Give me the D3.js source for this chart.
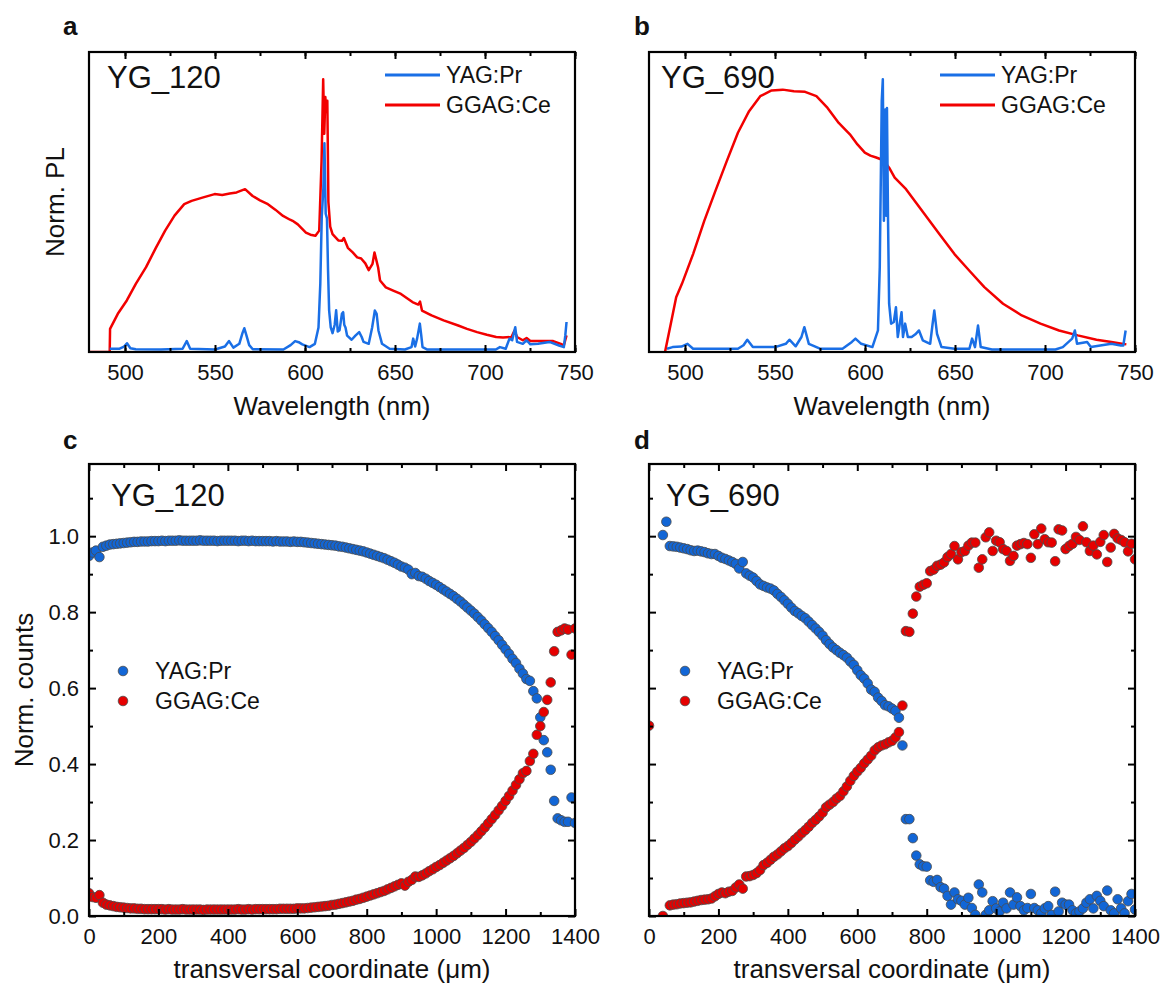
<!DOCTYPE html>
<html lang="en">
<head>
<meta charset="UTF-8">
<title>YAG:Pr / GGAG:Ce spectra and profiles</title>
<script src="https://d3js.org/d3.v7.min.js"></script>
<style>
  body { margin: 0; background: #fff; }
  svg { display: block; font-family: "Liberation Sans", Arial, sans-serif; }
</style>
</head>
<body>
<script>
// ---------- data ----------
const seriesNames = ["YAG:Pr", "GGAG:Ce"];
const sampleNames = ["YG_120", "YG_690"];

// spectra: [wavelength (nm), normalized PL]
const ggag120 = [[480,0],[491.5,0],[491.7,0.085],[496,0.14],[501,0.189],[506,0.25],[511.7,0.311],[517,0.38],
  [522.3,0.445],[527.5,0.5],[532.9,0.542],[537,0.554],[543,0.566],[549.8,0.579],[554,0.576],[558.2,0.581],
  [562,0.585],[566.7,0.597],[570.9,0.572],[575,0.556],[579.4,0.542],[583.5,0.522],[587.8,0.499],[591.7,0.485],
  [593.1,0.481],[596,0.468],[600.5,0.438],[603,0.43],[605.8,0.426],[607.9,0.445],[609.2,0.7],[610.1,1.0],
  [610.7,0.8],[611.3,0.935],[611.9,0.88],[612.4,0.921],[613,0.55],[614,0.46],[615.3,0.432],[618.5,0.409],
  [620.6,0.408],[621.6,0.418],[623.8,0.382],[626.5,0.365],[629,0.347],[631.2,0.343],[633.5,0.325],[635.4,0.3],
  [637.5,0.323],[638.6,0.365],[640.6,0.311],[641.7,0.262],[644.9,0.237],[649,0.225],[653.3,0.213],[656.5,0.198],
  [659.7,0.183],[662.9,0.174],[663.9,0.185],[665,0.152],[670.3,0.134],[677,0.116],[685.1,0.097],[690,0.085],
  [695.6,0.073],[701,0.063],[706.2,0.055],[710,0.053],[714.7,0.055],[716.4,0.079],[717.8,0.055],[721,0.043],
  [723.1,0.051],[725.2,0.04],[731.6,0.04],[737.9,0.04],[742.1,0.03],[743.8,0.024],[745.3,0.061]];

const yag120 = [[491.5,0.012],[497,0.012],[499.5,0.02],[501.1,0.032],[503,0.014],[506,0.01],[520,0.009],
  [532,0.012],[534.3,0.04],[536.2,0.012],[550,0.009],[555.5,0.02],[557.8,0.04],[560.2,0.016],[563.5,0.03],
  [565.3,0.07],[566.3,0.087],[567.5,0.06],[569,0.025],[571,0.01],[588,0.009],[592,0.025],[594.5,0.04],
  [596.5,0.036],[598.5,0.028],[602.5,0.018],[605.5,0.03],[607.5,0.09],[608.5,0.25],[609.3,0.494],[610.2,0.6],
  [610.8,0.765],[611.5,0.507],[612.2,0.49],[612.8,0.3],[613.4,0.153],[614.3,0.09],[615.3,0.069],[616.5,0.1],
  [617.3,0.153],[618.2,0.075],[619.2,0.08],[620.5,0.14],[621.2,0.146],[621.8,0.1],[622.5,0.09],[623.4,0.06],
  [625.9,0.045],[628,0.06],[630.1,0.073],[631.5,0.055],[632.5,0.037],[635.4,0.03],[637.3,0.09],[638.8,0.152],
  [639.8,0.14],[640.8,0.079],[642.8,0.03],[647,0.012],[655.5,0.009],[659.2,0.018],[660.1,0.049],[661.2,0.02],
  [662.3,0.05],[663.8,0.104],[664.6,0.06],[665.3,0.018],[668,0.009],[706,0.009],[708.3,0.018],[711.5,0.012],
  [713.6,0.049],[715.1,0.043],[716.8,0.091],[717.8,0.037],[721,0.03],[723.1,0.043],[725.2,0.028],[729.5,0.03],
  [735.8,0.037],[741.1,0.024],[743.8,0.018],[744.6,0.06],[745.3,0.11]];

const ggag690 = [[488.9,0],[492,0.1],[495.1,0.201],[498.3,0.25],[504.5,0.359],[510.7,0.481],[516.9,0.591],
  [523.2,0.7],[529.4,0.804],[535.6,0.883],[541.8,0.938],[548.1,0.959],[554.3,0.962],[560.5,0.956],[566.7,0.954],
  [573,0.938],[579.2,0.895],[585.4,0.84],[591.6,0.798],[595.8,0.761],[599.9,0.731],[603,0.72],[606.2,0.713],
  [610.3,0.703],[613.4,0.676],[616.5,0.639],[622.8,0.597],[629,0.542],[635.2,0.487],[641.4,0.432],[649.7,0.359],
  [658,0.298],[666.3,0.238],[676.7,0.177],[687.1,0.134],[697.5,0.104],[707.8,0.079],[718.2,0.061],[728.6,0.045],
  [736.9,0.037],[745.2,0.028]];

const yag690 = [[490,0.012],[493.1,0.018],[498,0.02],[501.4,0.03],[504.5,0.012],[529.4,0.012],[532.5,0.025],
  [534.6,0.045],[537.7,0.018],[550.1,0.018],[556,0.03],[558,0.045],[561.5,0.021],[564.7,0.055],[566.3,0.091],
  [568.8,0.03],[575,0.012],[587.5,0.012],[592.7,0.037],[594.7,0.049],[597.9,0.03],[604.1,0.018],[607.2,0.079],
  [608.2,0.311],[609.3,0.92],[609.9,1.0],[610.5,0.481],[611.3,0.889],[611.8,0.5],[612.2,0.895],[612.8,0.481],
  [613.4,0.177],[614.5,0.104],[616,0.11],[617.2,0.164],[618.2,0.055],[620.3,0.146],[621.1,0.055],[622.3,0.104],
  [623.8,0.055],[625.9,0.055],[628,0.065],[630,0.079],[632.1,0.043],[636.2,0.03],[637.5,0.1],[638.5,0.152],
  [640,0.067],[642.5,0.018],[649.7,0.012],[658,0.012],[659.5,0.049],[661.1,0.018],[662.8,0.097],[664.3,0.018],
  [670.5,0.009],[705.8,0.009],[709.9,0.018],[713.1,0.037],[715.1,0.049],[716.6,0.079],[717.8,0.03],[723.4,0.037],
  [725.5,0.018],[730.7,0.024],[736.9,0.03],[742.1,0.024],[743.5,0.024],[744.8,0.079]];

// transversal scans, one value every 10 um from 0 to 1400 um (null = no point)
const scanStepUm = 10;
const yagScan120 = [
  0.948,0.957,0.962,0.945,0.972,0.975,0.978,0.979,0.980,0.981,
  0.982,0.983,0.984,0.985,0.985,0.986,0.986,0.986,0.987,0.987,
  0.987,0.988,0.987,0.988,0.988,0.988,0.989,0.988,0.988,0.988,
  0.988,0.988,0.989,0.988,0.988,0.988,0.988,0.987,0.988,0.988,
  0.988,0.988,0.988,0.987,0.988,0.988,0.987,0.988,0.987,0.987,
  0.987,0.987,0.987,0.986,0.987,0.986,0.986,0.986,0.985,0.986,
  0.985,0.985,0.984,0.983,0.982,0.981,0.980,0.979,0.978,0.977,
  0.976,0.975,0.973,0.972,0.970,0.968,0.966,0.964,0.962,0.960,
  0.957,0.954,0.951,0.948,0.945,0.942,0.938,0.934,0.930,0.925,
  0.920,0.917,0.912,0.900,0.903,0.895,0.893,0.888,0.882,0.877,
  0.872,0.866,0.860,0.854,0.848,0.842,0.835,0.828,0.820,0.812,
  0.804,0.796,0.787,0.778,0.768,0.758,0.748,0.737,0.726,0.714,
  0.702,0.690,0.677,0.666,0.651,0.638,0.624,0.619,0.592,0.573,
  0.523,0.463,0.431,0.385,0.303,0.257,0.252,0.248,0.248,0.312,
  0.245];
const ggagScan120 = [
  0.060,0.050,0.048,0.055,0.035,0.030,0.028,0.026,0.024,0.023,
  0.022,0.021,0.020,0.020,0.019,0.019,0.018,0.018,0.018,0.018,
  0.018,0.018,0.017,0.018,0.017,0.017,0.017,0.018,0.017,0.017,
  0.017,0.017,0.017,0.016,0.017,0.017,0.017,0.017,0.017,0.017,
  0.017,0.017,0.017,0.018,0.017,0.017,0.018,0.017,0.018,0.018,
  0.018,0.018,0.018,0.018,0.018,0.019,0.019,0.019,0.019,0.019,
  0.020,0.020,0.020,0.021,0.022,0.023,0.024,0.025,0.026,0.027,
  0.029,0.030,0.032,0.034,0.036,0.038,0.040,0.043,0.045,0.048,
  0.051,0.054,0.057,0.060,0.063,0.066,0.070,0.074,0.078,0.082,
  0.086,0.080,0.090,0.095,0.104,0.103,0.107,0.112,0.118,0.123,
  0.129,0.134,0.140,0.146,0.152,0.158,0.165,0.172,0.179,0.187,
  0.195,0.204,0.213,0.223,0.233,0.244,0.255,0.266,0.278,0.290,
  0.303,0.316,0.330,0.345,0.360,0.376,0.382,0.408,0.427,0.477,
  0.500,0.537,0.569,0.615,0.697,0.748,0.752,0.757,0.754,0.688,
  0.757];
const yagScan690 = [
  null,null,null,null,1.003,1.038,0.974,0.973,0.972,0.970,
  0.968,0.966,0.963,0.961,0.962,0.960,0.958,0.955,0.953,0.953,
  0.948,0.943,0.940,0.936,0.932,0.927,0.915,0.932,0.902,0.896,
  0.891,0.882,0.873,0.869,0.865,0.862,0.857,0.848,0.840,0.831,
  0.822,0.812,0.803,0.797,0.790,0.784,0.775,0.766,0.757,0.748,
  0.738,0.726,0.716,0.707,0.700,0.693,0.687,0.680,0.670,0.661,
  0.647,0.634,0.625,0.612,0.596,0.590,0.575,0.566,0.555,0.552,
  0.546,0.540,0.522,0.449,0.255,0.255,0.205,0.159,0.136,0.131,
  0.130,0.094,0.090,0.095,0.076,0.072,0.053,0.030,0.062,0.044,
  0.040,0.030,0.048,0.021,0.003,0.083,0.062,0.003,0.015,0.039,
  0.020,0.012,0.035,0.020,0.062,0.030,0.049,0.026,0.015,0.021,
  0.058,0.021,0.015,0.007,0.020,0.026,0.003,0.064,0.012,0.035,
  0.030,0.030,0.015,0.007,0.012,0.020,0.035,0.044,0.020,0.053,
  0.040,0.026,0.067,0.015,0.007,0.044,0.020,0.007,0.039,0.058,
  0.017];
const ggagScan690 = [
  0.501,null,null,null,0.000,null,0.028,0.030,0.031,0.033,
  0.034,0.035,0.036,0.038,0.040,0.042,0.043,0.044,0.046,0.052,
  0.058,0.062,0.060,0.064,0.066,0.075,0.083,0.072,0.104,0.105,
  0.108,0.113,0.121,0.134,0.140,0.148,0.156,0.162,0.170,0.178,
  0.184,0.192,0.201,0.209,0.218,0.226,0.235,0.245,0.253,0.262,
  0.272,0.286,0.293,0.300,0.309,0.316,0.328,0.341,0.356,0.369,
  0.380,0.390,0.402,0.412,0.422,0.436,0.444,0.449,0.452,0.457,
  0.461,0.470,0.484,0.554,0.750,0.748,0.796,0.841,0.867,0.872,
  0.876,0.908,0.912,0.922,0.925,0.931,0.945,0.953,0.974,0.939,
  0.958,0.961,0.975,0.983,0.983,0.917,0.939,0.997,1.010,0.961,
  0.988,0.984,0.966,0.961,0.935,0.948,0.975,0.979,0.982,0.979,
  0.943,1.005,0.979,1.020,0.992,0.984,0.983,0.934,1.018,1.015,
  0.966,0.974,0.980,0.998,0.990,1.026,0.984,0.961,0.975,0.952,
  0.985,1.003,0.932,0.970,1.006,0.994,0.990,0.984,0.960,0.980,
  0.939];

// axis ticks
const wlMajor = [500, 550, 600, 650, 700, 750];
const wlMinor = [500, 525, 550, 575, 600, 625, 650, 675, 700, 725, 750];
const posMajor = [0, 200, 400, 600, 800, 1000, 1200, 1400];
const posMinor = [100, 300, 500, 700, 900, 1100, 1300];
const cntMajor = [0, 0.2, 0.4, 0.6, 0.8, 1.0];
const cntMinor = [0.1, 0.3, 0.5, 0.7, 0.9, 1.1];

// ---------- drawing ----------
const width = 1169, height = 984;
const blueLine = "#1a6fe6", redLine = "#f20000";
const blueDot = "#1266d6", redDot = "#e60000";

const svg = d3.select("body").append("svg")
  .attr("width", width).attr("height", height);

const panels = {
  a: { left: 89, right: 575, top: 52, bottom: 352 },
  b: { left: 649, right: 1135, top: 52, bottom: 352 },
  c: { left: 89, right: 575, top: 464, bottom: 916 },
  d: { left: 649, right: 1135, top: 464, bottom: 916 }
};

function addClip(id, p) {
  svg.append("clipPath").attr("id", id).append("rect")
    .attr("x", p.left).attr("y", p.top)
    .attr("width", p.right - p.left).attr("height", p.bottom - p.top);
}

function styleAxis(sel) {
  sel.select(".domain").remove();
  sel.selectAll(".tick line").attr("stroke", "#000").attr("stroke-width", 2);
  sel.selectAll(".tick text").attr("font-size", 22).attr("fill", "#111")
    .attr("font-family", "'Liberation Sans', Arial, sans-serif");
}

// inward ticks on all four sides, labels only where asked
function drawAxes(p, x, y, o) {
  const g = svg.append("g");
  const fmtX = o.xLabels ? d3.format("d") : () => "";
  g.append("g").attr("transform", `translate(0,${p.bottom})`)
    .call(d3.axisBottom(x).tickValues(o.xMinor).tickSize(-4).tickFormat(""))
    .call(styleAxis);
  g.append("g").attr("transform", `translate(0,${p.bottom})`)
    .call(d3.axisBottom(x).tickValues(o.xMajor).tickSize(-7).tickPadding(12).tickFormat(fmtX))
    .call(styleAxis);
  g.append("g").attr("transform", `translate(0,${p.top})`)
    .call(d3.axisTop(x).tickValues(o.xMinor).tickSize(-4).tickFormat(""))
    .call(styleAxis);
  g.append("g").attr("transform", `translate(0,${p.top})`)
    .call(d3.axisTop(x).tickValues(o.xMajor).tickSize(-7).tickFormat(""))
    .call(styleAxis);
  if (o.yMajor) {
    const fmtY = o.yLabels ? d3.format(".1f") : () => "";
    g.append("g").attr("transform", `translate(${p.left},0)`)
      .call(d3.axisLeft(y).tickValues(o.yMinor).tickSize(-4).tickFormat(""))
      .call(styleAxis);
    g.append("g").attr("transform", `translate(${p.left},0)`)
      .call(d3.axisLeft(y).tickValues(o.yMajor).tickSize(-7).tickPadding(10).tickFormat(fmtY))
      .call(styleAxis);
    g.append("g").attr("transform", `translate(${p.right},0)`)
      .call(d3.axisRight(y).tickValues(o.yMinor).tickSize(-4).tickFormat(""))
      .call(styleAxis);
    g.append("g").attr("transform", `translate(${p.right},0)`)
      .call(d3.axisRight(y).tickValues(o.yMajor).tickSize(-7).tickFormat(""))
      .call(styleAxis);
  }
  g.append("rect")
    .attr("x", p.left).attr("y", p.top)
    .attr("width", p.right - p.left).attr("height", p.bottom - p.top)
    .attr("fill", "none").attr("stroke", "#000").attr("stroke-width", 2.2);
}

function text(x, y, str, size, extra) {
  const t = svg.append("text").attr("x", x).attr("y", y)
    .attr("font-size", size).attr("fill", "#111").text(str);
  if (extra) extra(t);
  return t;
}

function spectrumPanel(key, red, blue, sample, letterX, showYTitle, legendX) {
  const p = panels[key];
  const x = d3.scaleLinear().domain([480, 750]).range([p.left, p.right]);
  const y = d3.scaleLinear().domain([0, 1.1]).range([p.bottom, p.top]);
  addClip("clip-" + key, p);
  const line = d3.line().x(d => x(d[0])).y(d => y(d[1]));
  const g = svg.append("g").attr("clip-path", `url(#clip-${key})`);
  g.append("path").datum(red).attr("d", line)
    .attr("fill", "none").attr("stroke", redLine).attr("stroke-width", 2.5).attr("stroke-linejoin", "round");
  g.append("path").datum(blue).attr("d", line)
    .attr("fill", "none").attr("stroke", blueLine).attr("stroke-width", 2.5).attr("stroke-linejoin", "round");

  drawAxes(p, x, y, { xMajor: wlMajor, xMinor: wlMinor, xLabels: true });

  text((p.left + p.right) / 2, p.bottom + 63, "Wavelength (nm)", 26, t => t.attr("text-anchor", "middle"));
  if (showYTitle) {
    text(0, 0, "Norm. PL", 26, t => t.attr("text-anchor", "middle")
      .attr("transform", `translate(${p.left - 25},${(p.top + p.bottom) / 2}) rotate(-90)`));
  }
  text(p.left + sample.dx, p.top + 36, sample.name, 31);
  text(letterX, p.top - 17, key, 26, t => t.attr("font-weight", "bold"));

  // legend
  const lg = [[seriesNames[0], blueLine, 23], [seriesNames[1], redLine, 53]];
  lg.forEach(([name, col, dy]) => {
    svg.append("line").attr("x1", legendX).attr("x2", legendX + 55)
      .attr("y1", p.top + dy).attr("y2", p.top + dy)
      .attr("stroke", col).attr("stroke-width", 2.8);
    text(legendX + 61, p.top + dy, name, 23, t => t.attr("dy", "0.35em"));
  });
}

function scanPanel(key, yag, ggag, sample, letterX, showY, legendX) {
  const p = panels[key];
  const x = d3.scaleLinear().domain([0, 1400]).range([p.left, p.right]);
  const y = d3.scaleLinear().domain([0, 1.19]).range([p.bottom, p.top]);
  addClip("clip-" + key, p);
  const g = svg.append("g").attr("clip-path", `url(#clip-${key})`);
  const series = [[yag, blueDot], [ggag, redDot]];
  series.forEach(([vals, col]) => {
    const pts = vals.map((v, i) => [i * scanStepUm, v]).filter(d => d[1] !== null);
    g.append("g").selectAll("circle").data(pts).enter().append("circle")
      .attr("cx", d => x(d[0])).attr("cy", d => y(d[1])).attr("r", 4.8)
      .attr("fill", col).attr("stroke", "#4a4a4a").attr("stroke-width", 0.8);
  });

  drawAxes(p, x, y, { xMajor: posMajor, xMinor: posMinor, xLabels: true,
    yMajor: cntMajor, yMinor: cntMinor, yLabels: showY });

  text((p.left + p.right) / 2, p.bottom + 62, "transversal coordinate (\u03bcm)", 26,
    t => t.attr("text-anchor", "middle"));
  if (showY) {
    text(0, 0, "Norm. counts", 26, t => t.attr("text-anchor", "middle")
      .attr("transform", `translate(${p.left - 56},${(p.top + p.bottom) / 2}) rotate(-90)`));
  }
  text(p.left + sample.dx, p.top + 42, sample.name, 31);
  text(letterX, p.top - 15, key, 26, t => t.attr("font-weight", "bold"));

  const lg = [[seriesNames[0], blueDot, 207], [seriesNames[1], redDot, 237]];
  lg.forEach(([name, col, dy]) => {
    svg.append("circle").attr("cx", legendX).attr("cy", p.top + dy).attr("r", 4.8)
      .attr("fill", col).attr("stroke", "#4a4a4a").attr("stroke-width", 0.8);
    text(legendX + 32, p.top + dy, name, 23, t => t.attr("dy", "0.35em"));
  });
}

spectrumPanel("a", ggag120, yag120, { name: sampleNames[0], dx: 18 }, 63, true, 385);
spectrumPanel("b", ggag690, yag690, { name: sampleNames[1], dx: 12 }, 634, false, 940);
scanPanel("c", yagScan120, ggagScan120, { name: sampleNames[0], dx: 22 }, 63, true, 123);
scanPanel("d", yagScan690, ggagScan690, { name: sampleNames[1], dx: 17 }, 634, false, 685);
</script>
</body>
</html>
